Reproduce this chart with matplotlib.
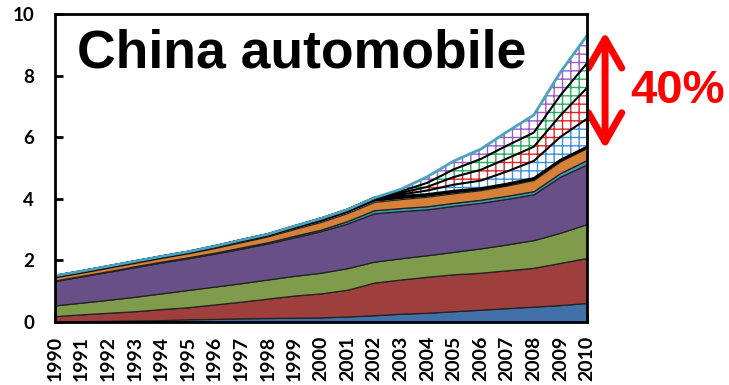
import numpy as np
import matplotlib
matplotlib.use("Agg")
import matplotlib.pyplot as plt
from matplotlib.patches import FancyArrowPatch
from matplotlib.transforms import blended_transform_factory

years = np.arange(1990, 2011)

# solid layers, given as the top of each band (cumulative)
blue_top = [0.03, 0.03, 0.04, 0.05, 0.06, 0.09, 0.10, 0.12, 0.13, 0.14, 0.15,
            0.18, 0.22, 0.27, 0.30, 0.35, 0.40, 0.45, 0.50, 0.55, 0.62]
red_top = [0.19, 0.25, 0.30, 0.35, 0.42, 0.48, 0.57, 0.66, 0.76, 0.86, 0.93,
           1.05, 1.28, 1.38, 1.47, 1.55, 1.60, 1.68, 1.76, 1.92, 2.08]
green_top = [0.54, 0.63, 0.72, 0.82, 0.93, 1.04, 1.15, 1.26, 1.38, 1.50, 1.60,
             1.75, 1.96, 2.07, 2.17, 2.28, 2.39, 2.52, 2.66, 2.90, 3.18]
purple_top = [1.33, 1.48, 1.63, 1.78, 1.93, 2.07, 2.22, 2.38, 2.55, 2.75, 2.95,
              3.20, 3.53, 3.60, 3.66, 3.77, 3.87, 4.00, 4.15, 4.72, 5.12]
# thin bands, given as thickness
teal = [0.02, 0.02, 0.02, 0.03, 0.03, 0.03, 0.03, 0.04, 0.04, 0.05, 0.05,
        0.08, 0.10, 0.10, 0.10, 0.10, 0.10, 0.10, 0.10, 0.12, 0.14]
orange = [0.10, 0.10, 0.11, 0.11, 0.12, 0.13, 0.15, 0.17, 0.19, 0.22, 0.25,
          0.26, 0.27, 0.29, 0.31, 0.31, 0.31, 0.33, 0.36, 0.38, 0.39]
other_a = [0.02, 0.02, 0.02, 0.02, 0.02, 0.02, 0.03, 0.03, 0.03, 0.04, 0.05,
           0.05, 0.06, 0.05, 0.04, 0.04, 0.03, 0.03, 0.03, 0.02, 0.02]
other_b = [0.03, 0.03, 0.03, 0.03, 0.03, 0.03, 0.03, 0.04, 0.04, 0.05, 0.06,
           0.06, 0.07, 0.05, 0.04, 0.04, 0.03, 0.03, 0.03, 0.02, 0.02]
# projected bands (hatched), thickness
proj_blue = [0] * 12 + [0.00, 0.05, 0.12, 0.20, 0.25, 0.40, 0.56, 0.75, 0.91]
proj_red = [0] * 12 + [0.00, 0.05, 0.12, 0.25, 0.35, 0.42, 0.46, 0.70, 1.00]
proj_green = [0] * 12 + [0.00, 0.05, 0.13, 0.25, 0.35, 0.42, 0.46, 0.65, 0.80]
proj_purple = [0] * 12 + [0.00, 0.07, 0.20, 0.27, 0.32, 0.45, 0.57, 0.75, 0.90]

yticks = [0, 2, 4, 6, 8, 10]

plt.rcParams["font.family"] = ["Lato", "DejaVu Sans"]

fig = plt.figure(figsize=(7.29, 3.85), dpi=100)
ax = fig.add_axes([0.0754, 0.1636, 0.7298, 0.8])

bottom = np.zeros(len(years))
solid = [
    (np.array(blue_top), "#4270A8"),
    (np.array(red_top) - np.array(blue_top), "#9E3F3D"),
    (np.array(green_top) - np.array(red_top), "#7E9C4B"),
    (np.array(purple_top) - np.array(green_top), "#684F88"),
    (np.array(teal), "#3D97AD"),
    (np.array(orange), "#D5813A"),
]
for vals, col in solid:
    top = bottom + vals
    ax.fill_between(years, bottom, top, facecolor=col, edgecolor="#222222",
                    linewidth=0.9, zorder=2)
    bottom = top

for vals in (other_a, other_b):
    top = bottom + np.array(vals)
    ax.fill_between(years, bottom, top, facecolor="#202020", linewidth=0,
                    zorder=2)
    ax.plot(years, top, color="black", lw=1.6, zorder=3)
    bottom = top
base_proj = bottom.copy()

plt.rcParams["hatch.linewidth"] = 1.0
proj = [(proj_blue, "#3D8FDC"), (proj_red, "#D9262B"),
        (proj_green, "#21AE5C"), (proj_purple, "#9A5CC8")]
for i, (vals, col) in enumerate(proj):
    top = bottom + np.array(vals)
    ax.fill_between(years, bottom, top, facecolor="white", edgecolor=col,
                    hatch="++", linewidth=0, zorder=2)
    if i < len(proj) - 1:
        ax.plot(years, top, color="black", lw=1.5, zorder=3)
    else:
        ax.plot(years, top, color="#4BA3C0", lw=2.0, zorder=3)
    bottom = top
total = bottom

ax.set_xlim(years[0], years[-1])
ax.set_ylim(0, 10)
ax.set_xticks(years)
ax.set_xticklabels([str(y) for y in years], rotation=90, fontweight="bold",
                   fontsize=14)
ax.set_yticks(yticks)
ax.set_yticklabels([str(t) for t in yticks], fontweight="bold", fontsize=13.5)
ax.tick_params(axis="x", direction="in", length=6, width=2, pad=10)
ax.tick_params(axis="y", direction="in", length=6, width=2, pad=15)
for s in ax.spines.values():
    s.set_linewidth(2)
    s.set_zorder(5)

ax.text(0.041, 0.825, "China automobile", transform=ax.transAxes,
        family=["Liberation Sans", "DejaVu Sans"], fontweight="bold",
        fontsize=38.5, va="baseline", ha="left", zorder=6)

# gap arrow between base and projected total in the final year
trans = blended_transform_factory(ax.transAxes, ax.transData)
arrow = FancyArrowPatch((1.034, total[-1] + 0.12), (1.034, base_proj[-1] - 0.07),
                        transform=trans, arrowstyle="<->,head_length=21,head_width=12",
                        mutation_scale=1, shrinkA=0, shrinkB=0, color="red",
                        lw=5, capstyle="round", joinstyle="round", clip_on=False)
ax.add_patch(arrow)
ax.text(1.081, (total[-1] + base_proj[-1]) / 2, "40%", transform=trans,
        color="red", family=["Liberation Sans", "DejaVu Sans"],
        fontweight="bold", fontsize=34, va="center", ha="left")

fig.savefig("out.png", dpi=100)
